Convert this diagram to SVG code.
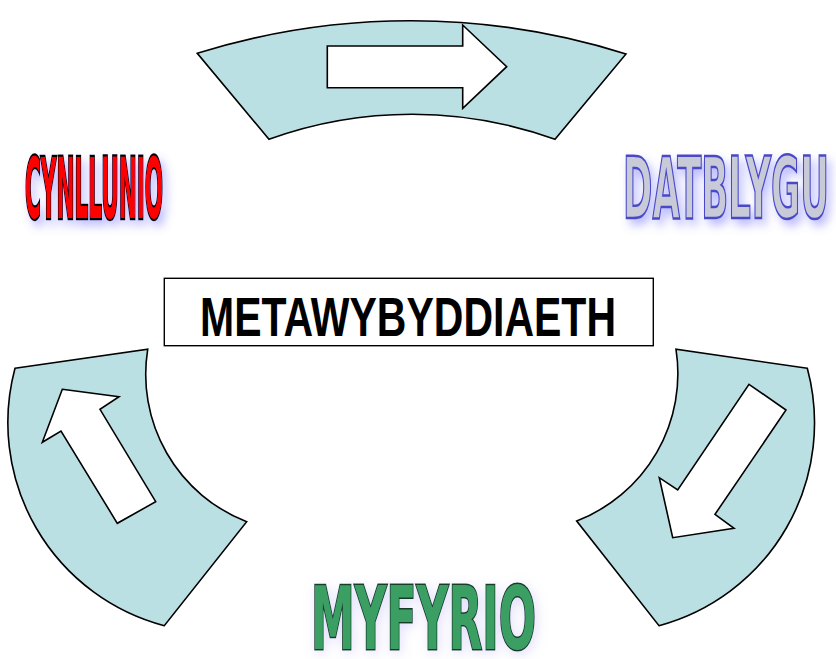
<svg xmlns="http://www.w3.org/2000/svg" width="836" height="659" viewBox="0 0 836 659">
  <defs>
    <filter id="glowBlue" filterUnits="userSpaceOnUse" x="0" y="130" width="836" height="120">
      <feGaussianBlur in="SourceAlpha" stdDeviation="5" result="b"/>
      <feOffset in="b" dx="4" dy="6" result="o"/>
      <feFlood flood-color="#6a6aff" flood-opacity="0.45"/>
      <feComposite in2="o" operator="in" result="s"/>
      <feMerge><feMergeNode in="s"/><feMergeNode in="SourceGraphic"/></feMerge>
    </filter>
    <filter id="glowLav" filterUnits="userSpaceOnUse" x="260" y="560" width="330" height="99">
      <feGaussianBlur in="SourceAlpha" stdDeviation="6" result="b"/>
      <feOffset in="b" dx="2" dy="3" result="o"/>
      <feFlood flood-color="#a8a0f0" flood-opacity="0.35"/>
      <feComposite in2="o" operator="in" result="s"/>
      <feMerge><feMergeNode in="s"/><feMergeNode in="SourceGraphic"/></feMerge>
    </filter>
  </defs>
  <style>
    .band { fill: #bbe0e3; stroke: #000; stroke-width: 1.6; stroke-linejoin: miter; }
    .arrow { fill: #fff; stroke: #000; stroke-width: 1.6; stroke-linejoin: miter; }
    .word { font-family: "DejaVu Sans", "Liberation Sans", sans-serif; font-weight: bold; }
    .title { font-family: "Liberation Sans", Arial, sans-serif; font-weight: bold; }
    .box { fill: #fff; stroke: #000; stroke-width: 1.4; }
  </style>
  <rect width="836" height="659" fill="#fff"/>

  <g id="connectors">
    <g id="arrow-top">
      <path class="band" d="M197.3,53.3 A715,715 0 0 1 626,54 L555,139.3 A421,421 0 0 0 269,139.3 Z"/>
      <path class="arrow" d="M327.3,46 L462.7,46 L462.7,25 L506.7,66.7 L462.7,108.3 L462.7,87.7 L327.3,87.7 Z"/>
    </g>
    <g id="arrow-right">
      <path class="band" d="M807.3,368.3 L676,349.3 A158,158 0 0 1 576.7,521 L659,625.7 A210,210 0 0 0 807.3,368.3 Z"/>
      <path class="arrow" d="M749,384.3 L786,410 L715,514.3 L734,528.3 L672.7,537.7 L659.3,477.7 L677.7,490 Z"/>
    </g>
    <g id="arrow-left">
      <path class="band" d="M15,368.3 L147.7,349.3 A158,158 0 0 0 246.7,521.7 L164.3,625.7 A210,210 0 0 1 15,368.3 Z"/>
      <path class="arrow" d="M62.3,389.3 L119,396.7 L100,409.3 L155.7,501.7 L117.3,523.3 L61,431 L42.3,442.3 Z"/>
    </g>
  </g>

  <g id="node-cynllunio" filter="url(#glowBlue)">
    <text class="word" x="25" y="218" font-size="83" textLength="138" lengthAdjust="spacingAndGlyphs" fill="#ff0000" stroke="#000" stroke-width="4.5" paint-order="stroke">CYNLLUNIO</text>
  </g>

  <g id="node-datblygu" filter="url(#glowBlue)">
    <text class="word" x="623" y="218" font-size="85" textLength="206" lengthAdjust="spacingAndGlyphs" fill="#c9cad8" stroke="#4a4ac8" stroke-width="2.5">DATBLYGU</text>
  </g>

  <g id="node-myfyrio" filter="url(#glowLav)">
    <text class="word" x="311" y="649" font-size="88" textLength="225" lengthAdjust="spacingAndGlyphs" fill="#3a9e62" stroke="#163c28" stroke-width="3" paint-order="stroke">MYFYRIO</text>
  </g>

  <g id="node-metawybyddiaeth">
    <rect class="box" x="164.3" y="278.3" width="489" height="67.4"/>
    <text class="title" x="200" y="336" font-size="55" textLength="416" lengthAdjust="spacingAndGlyphs" fill="#000">METAWYBYDDIAETH</text>
  </g>
</svg>
